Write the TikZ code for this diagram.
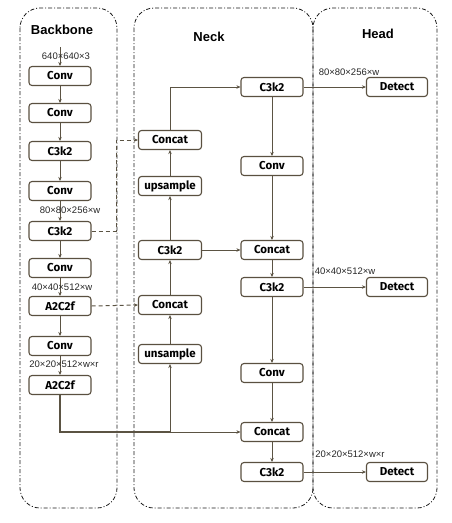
\documentclass[tikz,border=0pt]{standalone}
\usepackage{fontspec}
\setmainfont{Liberation Sans}
\newfontfamily\nodefont{Fira Sans}
\usetikzlibrary{arrows.meta}
\definecolor{ln}{HTML}{5B5343}
\definecolor{bd}{HTML}{5A5040}
\begin{document}
\begin{tikzpicture}[x=1pt,y=-1pt,
 blk/.style={draw=bd, line width=1.1pt, rounded corners=3pt, minimum width=62pt, minimum height=19pt, inner sep=0pt, font=\nodefont\bfseries\fontsize{11.5}{12}\selectfont, fill=white},
 cont/.style={draw=black!90, line width=0.8pt, rounded corners=20pt, dash pattern=on 4pt off 2pt on 1pt off 2pt},
 arr/.style={draw=ln, line width=1pt, -{Stealth[length=4pt,width=3.5pt]}},
 dsh/.style={arr, dash pattern=on 4pt off 3pt},
 lbl/.style={font=\fontsize{9.5}{10}\selectfont, inner sep=0pt, text=black!85},
 ttl/.style={font=\bfseries\fontsize{13}{14}\selectfont}]
\useasboundingbox (0,0) rectangle (452,523);
% containers
\draw[cont] (20,8) rectangle (117,508);
\draw[cont] (134,8) rectangle (313,508);
\draw[cont] (313,8) rectangle (437,508);
\node[ttl] (tb) at (62,30) {Backbone};
\node[ttl] (tn) at (209,37) {Neck};
\node[ttl] (th) at (378,34) {Head};
% backbone
\node[blk] (b1) at (60,76) {Conv};
\node[blk] (b2) at (60,113) {Conv};
\node[blk] (b3) at (60,151) {C3k2};
\node[blk] (b4) at (60,191) {Conv};
\node[blk] (b5) at (60,231) {C3k2};
\node[blk] (b6) at (60,268) {Conv};
\node[blk] (b7) at (60,306) {A2C2f};
\node[blk] (b8) at (60,346) {Conv};
\node[blk] (b9) at (60,385) {A2C2f};
% neck left
\node[blk, minimum width=63pt] (n1) at (170,140) {Concat};
\node[blk, minimum width=63pt] (n2) at (170,186) {upsample};
\node[blk, minimum width=63pt] (n3) at (170,250) {C3k2};
\node[blk, minimum width=63pt] (n4) at (170,305) {Concat};
\node[blk, minimum width=63pt] (n5) at (170,354) {unsample};
% neck right
\node[blk] (r1) at (272,87) {C3k2};
\node[blk] (r2) at (272,166) {Conv};
\node[blk] (r3) at (272,250) {Concat};
\node[blk] (r4) at (272,287) {C3k2};
\node[blk] (r5) at (272,373) {Conv};
\node[blk] (r6) at (272,432) {Concat};
\node[blk] (r7) at (272,472) {C3k2};
% head
\node[blk, minimum width=61pt] (d1) at (397,87) {Detect};
\node[blk, minimum width=61pt] (d2) at (397,287) {Detect};
\node[blk, minimum width=61pt] (d3) at (397,472) {Detect};
% backbone chain
\coordinate (in) at (60,47);
\draw[arr] (in) -- (b1);
\foreach \a/\b in {b1/b2,b2/b3,b3/b4,b4/b5,b5/b6,b6/b7,b7/b8,b8/b9}
  \draw[arr] (\a) -- (\b);
% dashed skip connections
\draw[dsh] (b5.east) -- (116,231) -- (116,140) -- (n1.west);
\draw[dsh] (b7.east) -- (n4.west);
% thick path from last A2C2f
\coordinate (j) at (170,432);
\draw[draw=ln, line width=2pt] (b9.south) |- (j);
\draw[arr] (j) -- (r6.west);
\draw[arr] (j) -- (n5.south);
% neck left column
\draw[arr] (n5) -- (n4);
\draw[arr] (n4) -- (n3);
\draw[arr] (n3) -- (n2);
\draw[arr] (n2) -- (n1);
\draw[arr] (n1.north) |- (r1.west);
\draw[arr] (n3) -- (r3);
% neck right column
\foreach \a/\b in {r1/r2,r2/r3,r3/r4,r4/r5,r5/r6,r6/r7}
  \draw[arr] (\a) -- (\b);
% to head
\draw[arr] (r1) -- (d1);
\draw[arr] (r4) -- (d2);
\draw[arr] (r7) -- (d3);
% labels
\node[lbl] (l1) at (66,56) {640×640×3};
\node[lbl] (l2) at (70,210) {80×80×256×w};
\node[lbl] (l3) at (62,287) {40×40×512×w};
\node[lbl] (l4) at (64,364) {20×20×512×w×r};
\node[lbl] (l5) at (349,72) {80×80×256×w};
\node[lbl] (l6) at (345,271) {40×40×512×w};
\node[lbl] (l7) at (350,454) {20×20×512×w×r};
\end{tikzpicture}
\end{document}
